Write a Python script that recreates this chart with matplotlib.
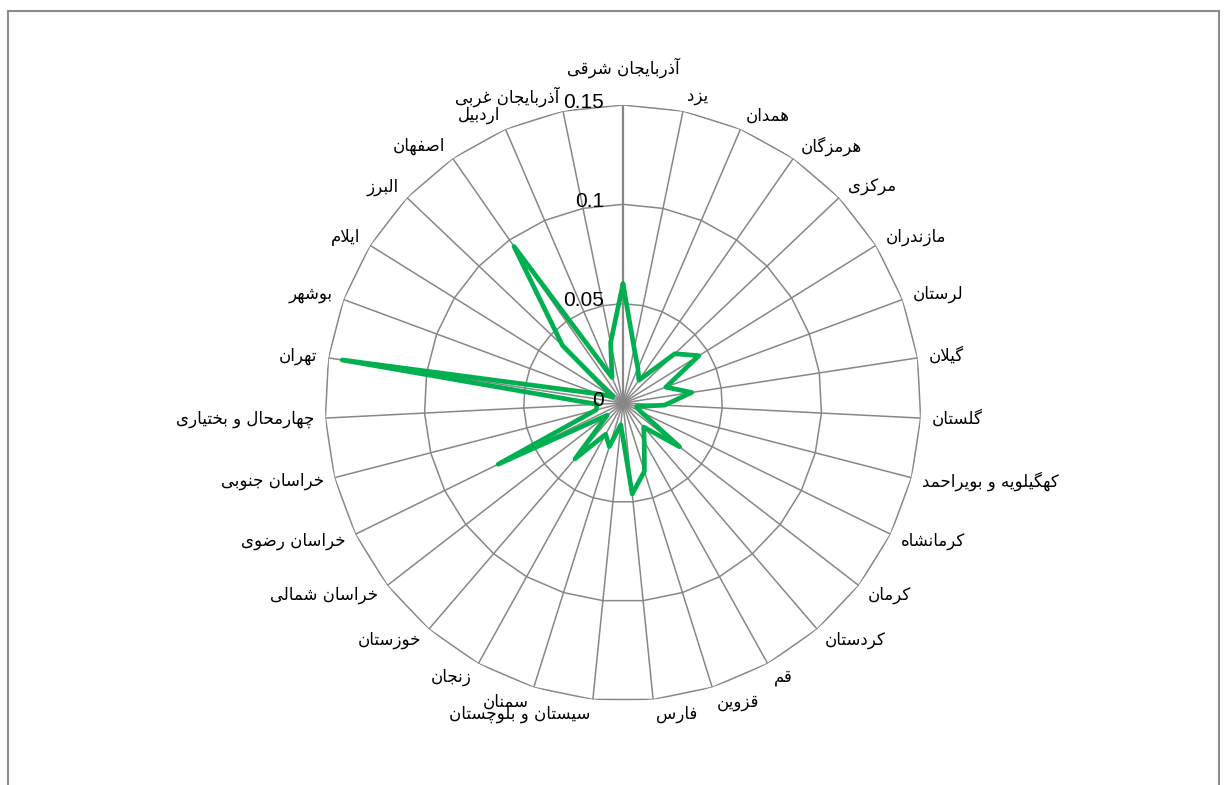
import numpy as np
import matplotlib
matplotlib.use("Agg")
import matplotlib.pyplot as plt
from matplotlib.patches import Rectangle

# provinces in data order (drawn counter-clockwise from the top)
provinces = [
    "آذربایجان شرقی", "آذربایجان غربی", "اردبیل", "اصفهان", "البرز", "ایلام",
    "بوشهر", "تهران", "چهارمحال و بختیاری", "خراسان جنوبی", "خراسان رضوی",
    "خراسان شمالی", "خوزستان", "زنجان", "سمنان", "سیستان و بلوچستان", "فارس",
    "قزوین", "قم", "کردستان", "کرمان", "کرمانشاه", "کهگیلویه و بویراحمد",
    "گلستان", "گیلان", "لرستان", "مازندران", "مرکزی", "هرمزگان", "همدان", "یزد",
]
values = [
    0.060, 0.031, 0.014, 0.096, 0.042, 0.006,
    0.013, 0.143, 0.013, 0.014, 0.070,
    0.010, 0.037, 0.018, 0.023, 0.011, 0.046,
    0.036, 0.022, 0.016, 0.036, 0.010, 0.007,
    0.021, 0.035, 0.023, 0.045, 0.036, 0.014, 0.019, 0.028,
]
ticks = [0, 0.05, 0.1, 0.15]
tick_labels = ["0", "0.05", "0.1", "0.15"]

# matplotlib has no arabic shaping, so pick presentation forms by hand
# (isolated, final, initial, medial)
FORMS = {
    "ا": ("\uFE8D", "\uFE8E", None, None),
    "آ": ("\uFE81", "\uFE82", None, None),
    "ب": ("\uFE8F", "\uFE90", "\uFE91", "\uFE92"),
    "ت": ("\uFE95", "\uFE96", "\uFE97", "\uFE98"),
    "ج": ("\uFE9D", "\uFE9E", "\uFE9F", "\uFEA0"),
    "چ": ("\uFB7A", "\uFB7B", "\uFB7C", "\uFB7D"),
    "ح": ("\uFEA1", "\uFEA2", "\uFEA3", "\uFEA4"),
    "خ": ("\uFEA5", "\uFEA6", "\uFEA7", "\uFEA8"),
    "د": ("\uFEA9", "\uFEAA", None, None),
    "ذ": ("\uFEAB", "\uFEAC", None, None),
    "ر": ("\uFEAD", "\uFEAE", None, None),
    "ز": ("\uFEAF", "\uFEB0", None, None),
    "س": ("\uFEB1", "\uFEB2", "\uFEB3", "\uFEB4"),
    "ش": ("\uFEB5", "\uFEB6", "\uFEB7", "\uFEB8"),
    "ص": ("\uFEB9", "\uFEBA", "\uFEBB", "\uFEBC"),
    "ض": ("\uFEBD", "\uFEBE", "\uFEBF", "\uFEC0"),
    "غ": ("\uFECD", "\uFECE", "\uFECF", "\uFED0"),
    "ف": ("\uFED1", "\uFED2", "\uFED3", "\uFED4"),
    "ق": ("\uFED5", "\uFED6", "\uFED7", "\uFED8"),
    "ک": ("\uFB8E", "\uFB8F", "\uFB90", "\uFB91"),
    "گ": ("\uFB92", "\uFB93", "\uFB94", "\uFB95"),
    "ل": ("\uFEDD", "\uFEDE", "\uFEDF", "\uFEE0"),
    "م": ("\uFEE1", "\uFEE2", "\uFEE3", "\uFEE4"),
    "ن": ("\uFEE5", "\uFEE6", "\uFEE7", "\uFEE8"),
    "ه": ("\uFEE9", "\uFEEA", "\uFEEB", "\uFEEC"),
    "و": ("\uFEED", "\uFEEE", None, None),
    "ی": ("\uFBFC", "\uFBFD", "\uFBFE", "\uFBFF"),
}
LAM_ALEF = {"ا": ("\uFEFB", "\uFEFC"), "آ": ("\uFEF5", "\uFEF6")}


def joins_next(c):
    return c in FORMS and FORMS[c][2] is not None


def shape(text):
    out = []
    i = 0
    n = len(text)
    while i < n:
        c = text[i]
        if c not in FORMS:
            out.append(c)
            i += 1
            continue
        jp = i > 0 and joins_next(text[i - 1])
        if c == "ل" and i + 1 < n and text[i + 1] in LAM_ALEF:
            iso, fin = LAM_ALEF[text[i + 1]]
            out.append(fin if jp else iso)
            i += 2
            continue
        jn = joins_next(c) and i + 1 < n and text[i + 1] in FORMS
        iso, fin, ini, med = FORMS[c]
        if jp and jn:
            out.append(med)
        elif jp:
            out.append(fin)
        elif jn:
            out.append(ini)
        else:
            out.append(iso)
        i += 1
    return "".join(reversed(out))


W, H = 1227, 785
cx, cy, R = 623, 403, 298
fig = plt.figure(figsize=(W / 100, H / 100), dpi=100)
fig.patches.append(Rectangle((8 / W, -0.1), 1211 / W, 1.1 - 11 / H,
                             transform=fig.transFigure, fill=False,
                             edgecolor="#8c8c8c", linewidth=1.5))

ax = fig.add_axes([(cx - R) / W, (H - cy - R) / H, 2 * R / W, 2 * R / H],
                  projection="polar")
ax.set_theta_zero_location("N")
ax.set_theta_direction(1)
ax.set_ylim(0, 0.15)
ax.grid(False)
ax.set_xticks([])
ax.set_yticks([])
ax.spines["polar"].set_visible(False)
ax.patch.set_alpha(0)

n = len(provinces)
theta = np.arange(n) * 2 * np.pi / n
theta_c = np.append(theta, theta[0])

grid_col = "#878787"
for t in ticks[1:]:
    ax.plot(theta_c, [t] * (n + 1), color=grid_col, lw=1.1, zorder=1)
for i, th in enumerate(theta):
    ax.plot([th, th], [0, ticks[-1]], color=grid_col,
            lw=1.6 if i == 0 else 1.1, zorder=1)

ax.plot(theta_c, values + values[:1], color="#00B050", lw=3.4,
        solid_joinstyle="round", solid_capstyle="round", zorder=3)

for t, lab in zip(ticks, tick_labels):
    ax.annotate(lab, xy=(0, t), xytext=(-19, 3), textcoords="offset pixels",
                ha="right", va="center", fontsize=15,
                family="Liberation Sans", color="black",
                annotation_clip=False, zorder=4)

for th, name in zip(theta, provinces):
    s = -np.sin(th)   # screen x direction (counter-clockwise layout)
    c = np.cos(th)
    if abs(s) < 1e-6:
        ha, va, dx, dy = "center", "bottom", 0, 27
    else:
        ha = "left" if s > 0 else "right"
        va = "center"
        dx = np.sign(s) * (2 + 9 * abs(s))
        dy = 15 * c
    ax.annotate(shape(name), xy=(th, ticks[-1]), xytext=(dx, dy),
                textcoords="offset pixels", ha=ha, va=va, fontsize=12,
                family="DejaVu Sans", color="black", annotation_clip=False)

fig.savefig("out.png", dpi=100)
